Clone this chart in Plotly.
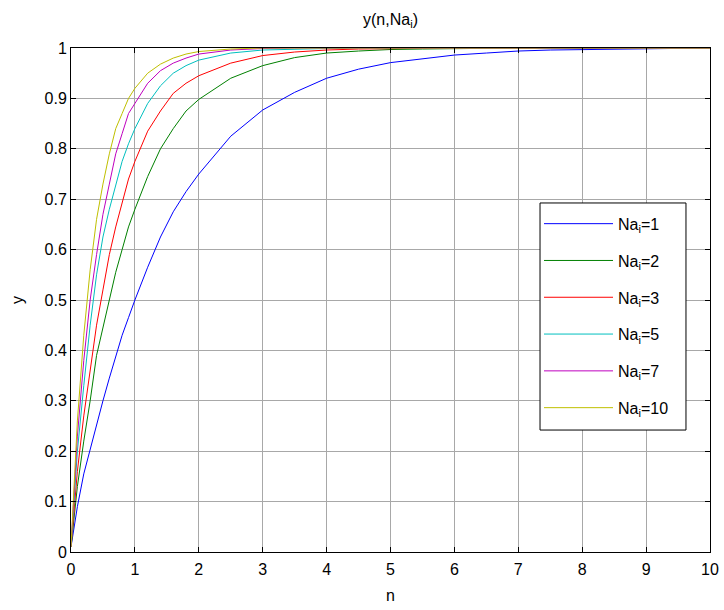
import plotly.graph_objects as go

n_vals = [0, 0.1, 0.2, 0.3, 0.4, 0.5, 0.6, 0.7, 0.8, 0.9, 1.0,
          1.2, 1.4, 1.6, 1.8, 2.0,
          2.5, 3.0, 3.5, 4.0, 4.5, 5.0, 5.5, 6.0, 6.5, 7.0, 7.5, 8.0, 8.5, 9.0, 9.5, 10.0]

y_na1 = [0.01, 0.09, 0.155, 0.205, 0.255, 0.30, 0.345, 0.39, 0.43, 0.465, 0.50,
         0.565, 0.625, 0.675, 0.715, 0.75,
         0.825, 0.877, 0.912, 0.94, 0.958, 0.971, 0.979, 0.986, 0.99, 0.994, 0.996, 0.997, 0.998, 0.999, 0.999, 1.0]
y_na2 = [0.01, 0.13, 0.22, 0.30, 0.39, 0.445, 0.50, 0.555, 0.60, 0.645, 0.68,
         0.745, 0.80, 0.84, 0.875, 0.898,
         0.94, 0.965, 0.981, 0.99, 0.994, 0.997, 0.998, 0.999, 1, 1, 1, 1, 1, 1, 1, 1]
y_na3 = [0.01, 0.16, 0.27, 0.36, 0.45, 0.52, 0.59, 0.645, 0.69, 0.74, 0.775,
         0.835, 0.875, 0.91, 0.93, 0.945,
         0.97, 0.985, 0.992, 0.996, 0.998, 0.999, 1, 1, 1, 1, 1, 1, 1, 1, 1, 1]
y_na5 = [0.01, 0.2, 0.33, 0.45, 0.55, 0.625, 0.68, 0.73, 0.775, 0.81, 0.84,
         0.89, 0.925, 0.95, 0.965, 0.976,
         0.99, 0.996, 0.998, 0.999, 1, 1, 1, 1, 1, 1, 1, 1, 1, 1, 1, 1]
y_na7 = [0.01, 0.23, 0.38, 0.5, 0.59, 0.67, 0.73, 0.79, 0.83, 0.87, 0.89,
         0.93, 0.955, 0.97, 0.98, 0.988,
         0.996, 0.999, 1, 1, 1, 1, 1, 1, 1, 1, 1, 1, 1, 1, 1, 1]
y_na10 = [0.01, 0.26, 0.43, 0.56, 0.66, 0.73, 0.79, 0.84, 0.87, 0.9, 0.92,
          0.95, 0.968, 0.98, 0.988, 0.993,
          0.998, 1, 1, 1, 1, 1, 1, 1, 1, 1, 1, 1, 1, 1, 1, 1]

labels = ["Na<sub>i</sub>=1", "Na<sub>i</sub>=2", "Na<sub>i</sub>=3",
          "Na<sub>i</sub>=5", "Na<sub>i</sub>=7", "Na<sub>i</sub>=10"]
series = [y_na1, y_na2, y_na3, y_na5, y_na7, y_na10]
colors = ["#0000ff", "#008000", "#ff0000", "#00bfbf", "#bf00bf", "#bfbf00"]

fig = go.Figure()
for i, (lab, ys, c) in enumerate(zip(labels, series, colors)):
    fig.add_trace(go.Scatter(x=n_vals, y=ys, mode="lines", name=lab,
                             line=dict(color=c, width=1), legendgroup=str(i)))

font_family = "Liberation Sans, Arial, sans-serif"
axis_common = dict(showline=True, linecolor="black", linewidth=1, mirror="ticks",
                   ticks="inside", ticklen=5, tickcolor="black",
                   showgrid=True, gridcolor="#a8a8a8", gridwidth=1,
                   zeroline=False, automargin=False,
                   tickfont=dict(size=16, color="black", family=font_family))

# legend frame (white box drawn above the curves)
fig.add_shape(type="rect", xref="paper", yref="paper",
              x0=0.734, x1=0.9624, y0=0.242, y1=0.6925,
              line=dict(color="black", width=1), fillcolor="white", layer="above")

fig.update_layout(
    width=724, height=610,
    paper_bgcolor="white", plot_bgcolor="white",
    margin=dict(l=71, r=14, t=48, b=58),
    font=dict(family=font_family, color="black", size=16),
    title=dict(text="y(n,Na<sub>i</sub>)", x=(71 + 710) / 2 / 724, xanchor="center",
               y=1 - 19 / 610, yanchor="middle", font=dict(size=16)),
    xaxis=dict(range=[0, 10], dtick=1, tick0=0, ticklabelstandoff=3,
               title=dict(text="n", font=dict(size=16), standoff=12), **axis_common),
    yaxis=dict(range=[0, 1], dtick=0.1, tick0=0,
               title=dict(text="y", font=dict(size=16), standoff=16), **axis_common),
    legend=dict(x=0.7324, y=0.685, xanchor="left", yanchor="top",
                bgcolor="rgba(0,0,0,0)", borderwidth=0,
                font=dict(size=16), tracegroupgap=13, traceorder="grouped",
                itemwidth=69, entrywidth=130),
    showlegend=True,
)

fig.write_html("out.html")
